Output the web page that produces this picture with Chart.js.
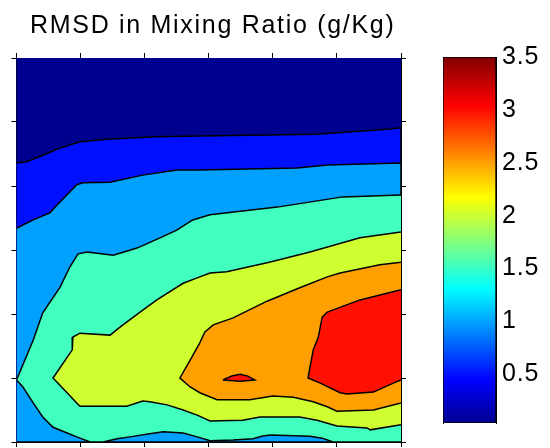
<!DOCTYPE html>
<html>
<head>
<meta charset="utf-8">
<script src="https://cdn.jsdelivr.net/npm/chart.js@4.4.1/dist/chart.umd.min.js"></script>
<style>
    html, body { margin: 0; padding: 0; background: #fff; }
    #wrap { position: relative; width: 550px; height: 448px; overflow: hidden; }
    #mapBox { position: absolute; left: 0; top: 0; width: 420px; height: 448px; }
    #barBox { position: absolute; left: 420px; top: 0; width: 130px; height: 448px; }
</style>
</head>
<body>
<div id="wrap">
    <div id="mapBox"><canvas id="mapChart"></canvas></div>
    <div id="barBox"><canvas id="barChart"></canvas></div>
</div>
<script>
/***************************************************************
 * DONNEES
 ***************************************************************/
const chartTitle = "RMSD in Mixing Ratio (g/Kg)";

// domaine de la grille (ticks sans labels)
const xMin = 0, xMax = 6;
const yMin = 0, yMax = 6;

// niveaux de contour et couleurs des bandes (jet)
const levels = [0.5, 1, 1.5, 2, 2.5, 3];
const bandColors = ["#00008f", "#0010ff", "#00a0ff", "#40ffbf", "#cfff30", "#ffa000", "#ff1000"];

// barre de couleur
const cMin = 0.04, cMax = 3.5;
const colorTicks = [0.5, 1, 1.5, 2, 2.5, 3, 3.5];

// lignes de contour [x, y]
const line05 = [[0,4.36],[0.16,4.38],[0.41,4.48],[0.65,4.58],[0.99,4.69],[1.41,4.73],
    [2.16,4.77],[2.86,4.78],[4.69,4.81],[5.83,4.89],[6,4.91]];

const line10 = [[0,3.34],[0.26,3.47],[0.52,3.58],[0.63,3.70],[0.94,4.02],[1.04,4.05],
    [1.46,4.06],[1.97,4.17],[2.50,4.25],[2.86,4.25],[4.38,4.28],[4.85,4.33],[6,4.36]];

const line15 = [[6,3.86],[5.09,3.83],[4.07,3.67],[3.02,3.55],[2.75,3.47],[2.50,3.31],
    [2.24,3.19],[1.88,3.03],[1.51,2.92],[1.10,2.97],[0.96,2.94],[0.83,2.73],[0.68,2.42],
    [0.41,2.02],[0.26,1.59],[0,0.97],[0.10,0.86],[0.26,0.61],[0.41,0.39],[0.57,0.23],
    [0.79,0.14],[0.94,0.08],[1.15,0],[1.35,0],[1.57,0.05],[1.77,0.08],[2.08,0.13],
    [2.29,0.16],[2.60,0.14],[2.82,0.08],[3.02,0.02],[3.38,0.03],[3.69,0.05],[3.83,0.09],
    [3.96,0.11],[4.58,0.09],[4.77,0.06],[4.94,0],[6,0]];

const line20 = [[6,3.28],[5.36,3.19],[4.58,2.97],[4.07,2.84],[3.91,2.80],[3.28,2.66],
    [3.02,2.64],[2.86,2.58],[2.60,2.48],[2.19,2.22],[1.97,2.06],[1.62,1.80],[1.46,1.67],
    [0.99,1.70],[0.88,1.64],[0.87,1.44],[0.57,1.00],[0.94,0.61],[0.99,0.56],[1.72,0.56],
    [1.97,0.64],[2.08,0.63],[2.35,0.58],[2.60,0.50],[2.82,0.42],[3.02,0.33],[3.53,0.34],
    [3.80,0.39],[4.42,0.39],[4.69,0.34],[5.00,0.25],[5.47,0.22],[5.52,0.19],[6,0.27]];

const line25 = [[6,2.81],[5.67,2.77],[5.05,2.64],[4.85,2.58],[4.42,2.41],[3.91,2.20],
    [3.38,1.94],[3.07,1.83],[2.94,1.72],[2.86,1.55],[2.71,1.28],[2.55,1.00],[2.71,0.86],
    [2.86,0.77],[3.13,0.66],[3.64,0.66],[4.00,0.72],[4.32,0.70],[4.63,0.63],[4.85,0.55],
    [5.00,0.48],[5.57,0.50],[6,0.61]];

const line30 = [[6,2.38],[5.36,2.22],[4.85,2.03],[4.77,1.95],[4.71,1.64],[4.63,1.44],
    [4.58,1.17],[4.55,1.00],[4.74,0.92],[5.05,0.77],[5.16,0.75],[5.57,0.78],[5.88,0.92],[6,0.97]];

const blob30 = [[3.22,0.97],[3.36,1.03],[3.49,1.06],[3.61,1.03],[3.72,0.97],[3.49,0.95],[3.22,0.97]];

/***************************************************************
 * CONSTRUCTION DES REGIONS
 ***************************************************************/
// ferme une ligne bord-a-bord par le bas du domaine
function closeToBottom(line) {
    return line.concat([[xMax, yMin], [xMin, yMin]]);
}

const regions = [
    { pts: closeToBottom(line05), color: bandColors[1] },
    { pts: closeToBottom(line10), color: bandColors[2] },
    { pts: line15, color: bandColors[3] },
    { pts: line20, color: bandColors[4] },
    { pts: line25, color: bandColors[5] },
    { pts: line30, color: bandColors[6] },
    { pts: blob30, color: bandColors[6] }
];

const FONT = "'Liberation Sans', Arial, sans-serif";

/***************************************************************
 * PLUGINS
 ***************************************************************/
const spacingPlugin = {
    id: "spacing",
    beforeDraw(chart, args, opts) {
        chart.ctx.letterSpacing = opts.value || "0px";
    }
};

const areaBackground = {
    id: "areaBackground",
    beforeDatasetsDraw(chart, args, opts) {
        const { ctx, chartArea: a } = chart;
        ctx.save();
        ctx.fillStyle = opts.color;
        ctx.fillRect(a.left, a.top, a.right - a.left, a.bottom - a.top);
        ctx.restore();
    }
};

/***************************************************************
 * CARTE DE CONTOURS
 ***************************************************************/
function frameAxis(axis, position, min, max, size) {
    return {
        type: "linear",
        axis: axis,
        position: position,
        min: min,
        max: max,
        z: 1,
        ticks: { display: false, stepSize: 1 },
        grid: { drawOnChartArea: false, drawTicks: true, tickLength: 5, color: "#000", lineWidth: 1 },
        border: { display: true, color: "#000", width: 1 },
        afterFit(scale) {
            if (axis === "x") scale.height = size; else scale.width = size;
        }
    };
}

new Chart(document.getElementById("mapChart"), {
    type: "scatter",
    data: {
        datasets: regions.map((r, i) => ({
            data: r.pts.map(([x, y]) => ({ x, y })),
            showLine: true,
            fill: "shape",
            backgroundColor: r.color,
            borderColor: "#000",
            borderWidth: 1.5,
            pointRadius: 0,
            tension: 0,
            order: regions.length - i
        }))
    },
    options: {
        responsive: true,
        maintainAspectRatio: false,
        animation: false,
        events: [],
        layout: { padding: { left: 11.5, right: 6, top: 0, bottom: 1 } },
        plugins: {
            legend: { display: false },
            tooltip: { enabled: false },
            spacing: { value: "1.7px" },
            areaBackground: { color: bandColors[0] },
            title: {
                display: true,
                text: chartTitle,
                color: "#000",
                font: { family: FONT, size: 25, weight: "normal", lineHeight: 1.2 },
                padding: { top: 11, bottom: 12 }
            }
        },
        scales: {
            x: frameAxis("x", "bottom", xMin, xMax, 5),
            x2: frameAxis("x", "top", xMin, xMax, 5),
            y: frameAxis("y", "left", yMin, yMax, 5),
            y2: frameAxis("y", "right", yMin, yMax, 13)
        }
    },
    plugins: [spacingPlugin, areaBackground]
});

/***************************************************************
 * BARRE DE COULEUR
 ***************************************************************/
function jetGradient(context) {
    const { chart } = context;
    const a = chart.chartArea;
    if (!a) return null;
    const g = chart.ctx.createLinearGradient(0, a.bottom, 0, a.top);
    g.addColorStop(0, "#00008f");
    g.addColorStop(0.117, "#0000ff");
    g.addColorStop(0.367, "#00ffff");
    g.addColorStop(0.617, "#ffff00");
    g.addColorStop(0.867, "#ff0000");
    g.addColorStop(1, "#800000");
    return g;
}

function barAxis(position) {
    return {
        type: "linear",
        position: position,
        min: cMin,
        max: cMax,
        z: 1,
        afterBuildTicks(scale) {
            scale.ticks = colorTicks.map(v => ({ value: v }));
        },
        ticks: {
            display: position === "right",
            color: "#000",
            padding: 10,
            font: { family: FONT, size: 25 },
            callback: v => String(v)
        },
        grid: { drawOnChartArea: false, drawTicks: true, tickLength: -4, color: "#000" },
        border: { display: true, color: "#000", width: 1 },
        afterFit(scale) {
            scale.width = position === "right" ? 54 : 0;
        }
    };
}

new Chart(document.getElementById("barChart"), {
    type: "bar",
    data: {
        labels: [""],
        datasets: [{
            data: [[cMin, cMax]],
            backgroundColor: jetGradient,
            borderColor: "#000",
            borderWidth: 1,
            borderSkipped: false,
            barPercentage: 1,
            categoryPercentage: 1
        }]
    },
    options: {
        responsive: true,
        maintainAspectRatio: false,
        animation: false,
        events: [],
        layout: { padding: { left: 23, right: 0, top: 57, bottom: 5 } },
        plugins: {
            legend: { display: false },
            tooltip: { enabled: false },
            spacing: { value: "0.8px" }
        },
        scales: {
            x: { display: false },
            y: barAxis("right"),
            yL: barAxis("left")
        }
    },
    plugins: [spacingPlugin]
});
</script>
</body>
</html>
